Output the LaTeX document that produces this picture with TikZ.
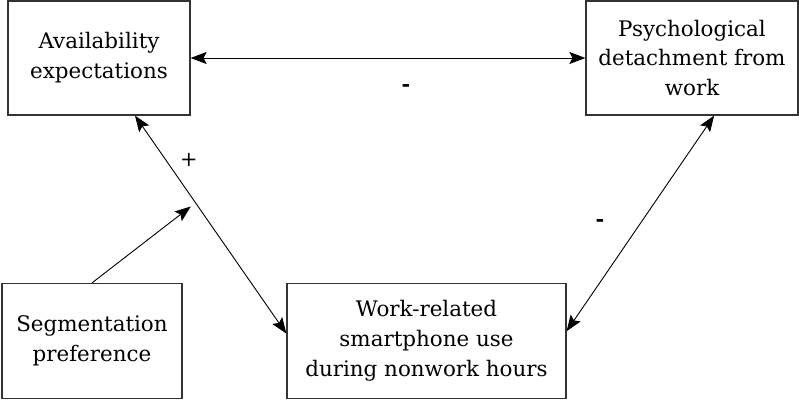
\documentclass[tikz,border=0pt]{standalone}
\usepackage{fontspec}
\setmainfont{DejaVu Serif}
\usetikzlibrary{arrows.meta}

\begin{document}
\begin{tikzpicture}[x=1bp, y=1bp,
    box/.style={draw=black!80, line width=1.2bp, align=center, inner sep=0pt,
        font=\fontsize{21.5}{30}\selectfont},
    link/.style={{Stealth[length=16bp, width=12bp, inset=3bp]}-{Stealth[length=16bp, width=12bp, inset=3bp]}, line width=0.9bp},
    sign/.style={font=\fontsize{21}{22}\selectfont},
]
\useasboundingbox (0,0) rectangle (799,400);

% the four constructs
\node[box, minimum width=182bp, minimum height=114bp] (avail) at (99,342) {Availability\\expectations};
\node[box, minimum width=212bp, minimum height=114bp] (detach) at (692,342) {Psychological\\detachment from\\work};
\node[box, minimum width=180bp, minimum height=115bp] (segm) at (92,59) {Segmentation\\preference};
\node[box, minimum width=279bp, minimum height=115bp] (phone) at (426.5,59) {Work-related\\smartphone use\\during nonwork hours};

% relations
\draw[link] (avail.east) -- (detach.west);
\draw[link] (avail.-58) -- (phone.177) coordinate[pos=0.4] (mod);
\draw[link] (detach.-69) -- (phone.4);
\draw[-{Stealth[length=16bp, width=12bp, inset=3bp]}, line width=0.9bp, shorten >=6bp] (segm.north) -- (mod);

\node[sign] (plus) at (189,240) {+};
\node[sign, font=\fontsize{21}{22}\selectfont\bfseries] (minusA) at (406,312) {-};
\node[sign, font=\fontsize{21}{22}\selectfont\bfseries] (minusB) at (600,177) {-};

\end{tikzpicture}
\end{document}
